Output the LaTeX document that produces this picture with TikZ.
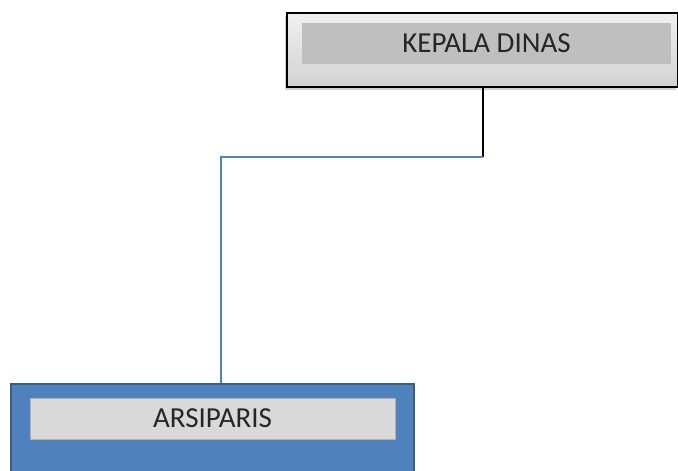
\documentclass[tikz,border=0pt]{standalone}
\usepackage{fontspec}
\setmainfont{Carlito}
\usetikzlibrary{shadows}
\definecolor{blueA}{HTML}{4F81BD}
\definecolor{blueB}{HTML}{385D8A}
\definecolor{txt}{HTML}{262626}
\tikzset{
  outerbox/.style={draw=black, line width=1.6pt, top color=gray!12, bottom color=gray!35, minimum width=391pt, minimum height=74pt, inner sep=0pt,
    drop shadow={shadow xshift=-2pt, shadow yshift=-3pt, fill=gray!60, opacity=0.6}},
  innergray/.style={fill=gray!50, draw=none, minimum width=369pt, minimum height=41pt, inner sep=0pt, font=\fontsize{29}{32}\selectfont, text=txt},
  bluebox/.style={draw=blueB, line width=2pt, fill=blueA, minimum width=403pt, minimum height=116pt, inner sep=0pt},
  innerlight/.style={fill=gray!30, draw=gray!60, line width=0.6pt, minimum width=365pt, minimum height=41pt, inner sep=0pt, font=\fontsize{29}{32}\selectfont, text=txt},
  blk/.style={draw=black, line width=1.6pt},
  blu/.style={draw=blueA, line width=1.6pt}
}
\begin{document}
\begin{tikzpicture}[x=1pt,y=-1pt]
\useasboundingbox (0,0) rectangle (678,471);
\node[outerbox] (top) at (482.5,50) {};
\node[innergray] (topin) at (486.5,43.5) {KEPALA DINAS};
\node[bluebox] (bot) at (212.5,442) {};
\node[innerlight] (botin) at (212.5,418.5) {ARSIPARIS};
\coordinate (j) at (483,157);
\coordinate (bj) at (221,157);
\draw[blk] (top.south -| j) -- (j);
\draw[blu] (j) -- (bj) -- (bj |- bot.north);
\end{tikzpicture}
\end{document}
